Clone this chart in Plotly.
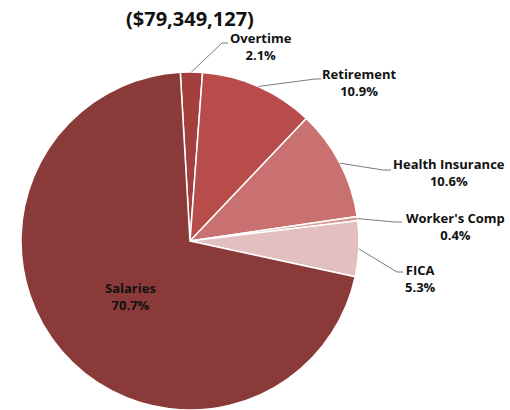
import math
import plotly.graph_objects as go

# Personnel cost breakdown (share of total, %), clockwise from 12 o'clock
categories = ["Overtime", "Retirement", "Health Insurance", "Worker's Comp", "FICA", "Salaries"]
shares = [2.1, 10.9, 10.6, 0.4, 5.3, 70.7]
total_label = "($79,349,127)"
title_label = "Salary Expenditure Components"

colors = ["#A3403E", "#B84C4A", "#C87170", "#D99A9A", "#E3BFC0", "#8B3A3A"]

W, H = 510, 410
CX, CY, R = 190, 241, 169          # pie centre / radius in pixels
START = -3.3                        # first slice start, degrees clockwise from top
FONT = "Open Sans"


def px(x):
    return x / W


def py(y):
    return 1 - y / H


# label centre, elbow point and end of leader line (pixels); None = label inside
label_layout = {
    "Overtime": dict(text=(261, 47), elbow=(222, 43), end=(228, 43)),
    "Retirement": dict(text=(359, 83), elbow=(315, 79), end=(321, 79)),
    "Health Insurance": dict(text=(449, 173), elbow=(383, 170), end=(391, 170)),
    "Worker's Comp": dict(text=(455, 226), elbow=(395, 222), end=(402, 222)),
    "FICA": dict(text=(420, 278), elbow=(397, 272), end=(403, 272)),
    "Salaries": dict(text=(130, 296), elbow=None, end=None),
}

fig = go.Figure()
fig.add_trace(go.Pie(
    labels=categories,
    values=shares,
    sort=False,
    direction="clockwise",
    rotation=START,
    marker=dict(colors=colors, line=dict(color="white", width=1.5)),
    textinfo="none",
    hoverinfo="label+percent",
    showlegend=False,
    domain=dict(x=[px(CX - R), px(CX + R)], y=[py(CY + R), py(CY - R)]),
))

annotations = []
shapes = []
total = sum(shares)
angle = START
for name, val in zip(categories, shares):
    span = val / total * 360
    mid = math.radians(angle + span / 2)
    angle += span
    spec = label_layout[name]
    tx, ty = spec["text"]
    annotations.append(dict(
        x=px(tx), y=py(ty), xref="paper", yref="paper",
        text=f"{name}<br>{val:.1f}%", showarrow=False,
        xanchor="center", yanchor="middle", align="center",
        font=dict(family=FONT, size=13, color="#111111", weight="bold"),
    ))
    if spec["elbow"] is not None:
        ax = CX + R * math.sin(mid)
        ay = CY - R * math.cos(mid)
        ex, ey = spec["elbow"]
        fx, fy = spec["end"]
        shapes.append(dict(
            type="path", xref="paper", yref="paper",
            path=f"M {px(ax)} {py(ay)} L {px(ex)} {py(ey)} L {px(fx)} {py(fy)}",
            line=dict(color="#7a7a7a", width=1),
        ))

annotations.append(dict(
    x=px(300), y=py(3), xref="paper", yref="paper", text=title_label,
    showarrow=False, xanchor="right", yanchor="bottom",
    font=dict(family=FONT, size=22, color="#111111", weight="bold"),
))
annotations.append(dict(
    x=px(190), y=py(18), xref="paper", yref="paper", text=total_label,
    showarrow=False, xanchor="center", yanchor="middle",
    font=dict(family=FONT, size=20, color="#111111", weight="bold"),
))

fig.update_layout(
    width=W, height=H,
    margin=dict(l=0, r=0, t=0, b=0),
    paper_bgcolor="white",
    plot_bgcolor="white",
    annotations=annotations,
    shapes=shapes,
)

fig.write_html("out.html")
